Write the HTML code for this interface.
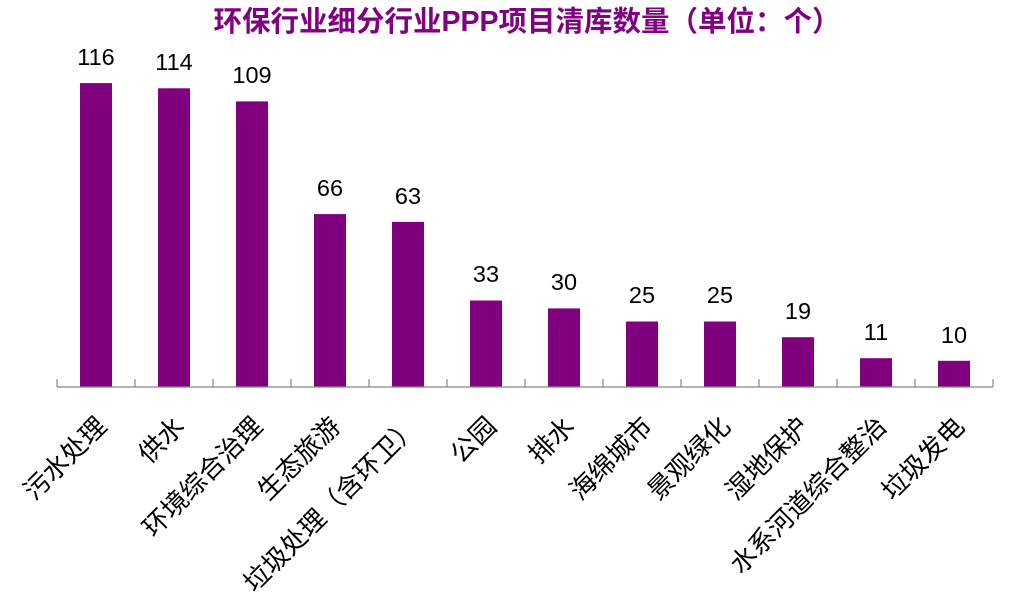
<!DOCTYPE html>
<html><head><meta charset="utf-8"><style>
body{margin:0;background:#fff;}
svg{display:block;}
</style></head><body>
<svg width="1013" height="595" xmlns="http://www.w3.org/2000/svg" font-family="Liberation Sans, Noto Sans CJK SC, sans-serif">
<text x="527" y="31" text-anchor="middle" font-size="28.5" font-weight="bold" fill="#800080">环保行业细分行业PPP项目清库数量（单位：个）</text>
<g fill="#800080">
<rect x="80" y="83.1" width="32" height="303.9"/>
<rect x="158" y="88.3" width="32" height="298.7"/>
<rect x="236" y="101.4" width="32" height="285.6"/>
<rect x="314" y="214.1" width="32" height="172.9"/>
<rect x="392" y="221.9" width="32" height="165.1"/>
<rect x="470" y="300.5" width="32" height="86.5"/>
<rect x="548" y="308.4" width="32" height="78.6"/>
<rect x="626" y="321.5" width="32" height="65.5"/>
<rect x="704" y="321.5" width="32" height="65.5"/>
<rect x="782" y="337.2" width="32" height="49.8"/>
<rect x="860" y="358.2" width="32" height="28.8"/>
<rect x="938" y="360.8" width="32" height="26.2"/>
</g>
<g font-size="23.5" fill="#000" text-anchor="middle">
<text x="96" y="65">116</text>
<text x="174" y="70">114</text>
<text x="252" y="83">109</text>
<text x="330" y="196">66</text>
<text x="408" y="204">63</text>
<text x="486" y="282">33</text>
<text x="564" y="290">30</text>
<text x="642" y="303">25</text>
<text x="720" y="303">25</text>
<text x="798" y="319">19</text>
<text x="876" y="340">11</text>
<text x="954" y="343">10</text>
</g>
<g stroke="#888" stroke-width="1.2">
<line x1="57" y1="387" x2="993" y2="387"/>
<line x1="57" y1="379" x2="57" y2="387"/>
<line x1="135" y1="379" x2="135" y2="387"/>
<line x1="213" y1="379" x2="213" y2="387"/>
<line x1="291" y1="379" x2="291" y2="387"/>
<line x1="369" y1="379" x2="369" y2="387"/>
<line x1="447" y1="379" x2="447" y2="387"/>
<line x1="525" y1="379" x2="525" y2="387"/>
<line x1="603" y1="379" x2="603" y2="387"/>
<line x1="681" y1="379" x2="681" y2="387"/>
<line x1="759" y1="379" x2="759" y2="387"/>
<line x1="837" y1="379" x2="837" y2="387"/>
<line x1="915" y1="379" x2="915" y2="387"/>
<line x1="993" y1="379" x2="993" y2="387"/>
</g>
<g font-size="26" fill="#000" text-anchor="end">
<text x="108" y="428" transform="rotate(-45 108 428)">污水处理</text>
<text x="186" y="428" transform="rotate(-45 186 428)">供水</text>
<text x="264" y="428" transform="rotate(-45 264 428)">环境综合治理</text>
<text x="342" y="428" transform="rotate(-45 342 428)">生态旅游</text>
<text x="420" y="428" transform="rotate(-45 420 428)">垃圾处理（含环卫）</text>
<text x="498" y="428" transform="rotate(-45 498 428)">公园</text>
<text x="576" y="428" transform="rotate(-45 576 428)">排水</text>
<text x="654" y="428" transform="rotate(-45 654 428)">海绵城市</text>
<text x="732" y="428" transform="rotate(-45 732 428)">景观绿化</text>
<text x="810" y="428" transform="rotate(-45 810 428)">湿地保护</text>
<text x="888" y="428" transform="rotate(-45 888 428)">水系河道综合整治</text>
<text x="966" y="428" transform="rotate(-45 966 428)">垃圾发电</text>
</g>
</svg>
</body></html>
